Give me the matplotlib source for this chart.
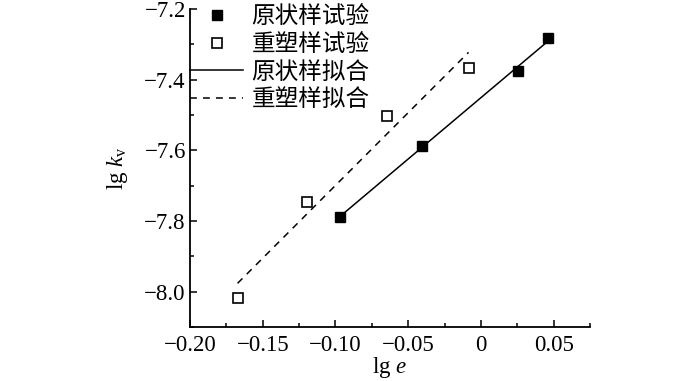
import numpy as np
import matplotlib
matplotlib.use("Agg")
import matplotlib.pyplot as plt
from matplotlib.ticker import FixedLocator, FixedFormatter, MultipleLocator

plt.rcParams['font.family'] = ['Liberation Serif', 'Noto Sans CJK SC']
plt.rcParams['mathtext.fontset'] = 'custom'
plt.rcParams['mathtext.rm'] = 'Liberation Serif'
plt.rcParams['mathtext.it'] = 'Liberation Serif:italic'
plt.rcParams['axes.unicode_minus'] = True

# Data
undisturbed_x = [-0.0969, -0.0407, 0.0256, 0.0459]
undisturbed_y = [-7.788, -7.588, -7.375, -7.2825]
remolded_x = [-0.1673, -0.1194, -0.0649, -0.0085]
remolded_y = [-8.019, -7.745, -7.502, -7.367]

labels = ['原状样试验', '重塑样试验', '原状样拟合', '重塑样拟合']
xticks = [-0.20, -0.15, -0.10, -0.05, 0, 0.05]
xticklabels = ['−0.20', '−0.15', '−0.10', '−0.05', '0', '0.05']
yticks = [-8.0, -7.8, -7.6, -7.4, -7.2]
yticklabels = ['−8.0', '−7.8', '−7.6', '−7.4', '−7.2']

fig = plt.figure(figsize=(7.0, 3.81), dpi=100)
ax = fig.add_axes([190/700, 1-327/381, 400/700, (327-9)/381])

# fits
p1 = np.polyfit(undisturbed_x, undisturbed_y, 1)
p2 = np.polyfit(remolded_x, remolded_y, 1)
fx1 = np.array([min(undisturbed_x), max(undisturbed_x)])
fx2 = np.array([min(remolded_x), max(remolded_x)])

ax.plot(undisturbed_x, undisturbed_y, 's', color='black', markersize=7.5,
        linestyle='none', label=labels[0], zorder=3)
ax.plot(remolded_x, remolded_y, 's', markerfacecolor='white', markeredgecolor='black',
        markeredgewidth=1.2, markersize=7.5, linestyle='none', label=labels[1], zorder=3)
ax.plot(fx1, np.polyval(p1, fx1), '-', color='black', linewidth=1.1, label=labels[2])
ax.plot(fx2, np.polyval(p2, fx2), '--', color='black', linewidth=1.1,
        dashes=(4.5, 4), label=labels[3])

ax.set_xlim(-0.20, 0.075)
ax.set_ylim(-8.1, -7.2)

ax.xaxis.set_major_locator(FixedLocator(xticks))
ax.xaxis.set_major_formatter(FixedFormatter(xticklabels))
ax.xaxis.set_minor_locator(MultipleLocator(0.025))
ax.yaxis.set_major_locator(FixedLocator(yticks))
ax.yaxis.set_major_formatter(FixedFormatter(yticklabels))
ax.yaxis.set_minor_locator(MultipleLocator(0.1))

ax.spines['top'].set_visible(False)
ax.spines['right'].set_visible(False)
for s in ['left', 'bottom']:
    ax.spines[s].set_linewidth(1.3)
ax.tick_params(which='both', direction='in', width=1.1, labelsize=16.5)
ax.tick_params(which='major', length=5)
ax.tick_params(axis='x', which='major', pad=6)
ax.tick_params(axis='y', which='major', pad=3)
ax.tick_params(which='minor', length=3)

ax.set_xlabel(r'lg $e$', fontsize=16.5, labelpad=-1)
ax.set_ylabel(r'lg $k_{\mathrm{v}}$', fontsize=16.5, labelpad=10)

leg = ax.legend(loc='upper left', bbox_to_anchor=(0.0, 1.01), frameon=False,
                fontsize=17, handlelength=2.25, handletextpad=0.35,
                borderpad=0, borderaxespad=0, labelspacing=0.25, markerscale=1.0)

fig.savefig('out.png', dpi=100)
